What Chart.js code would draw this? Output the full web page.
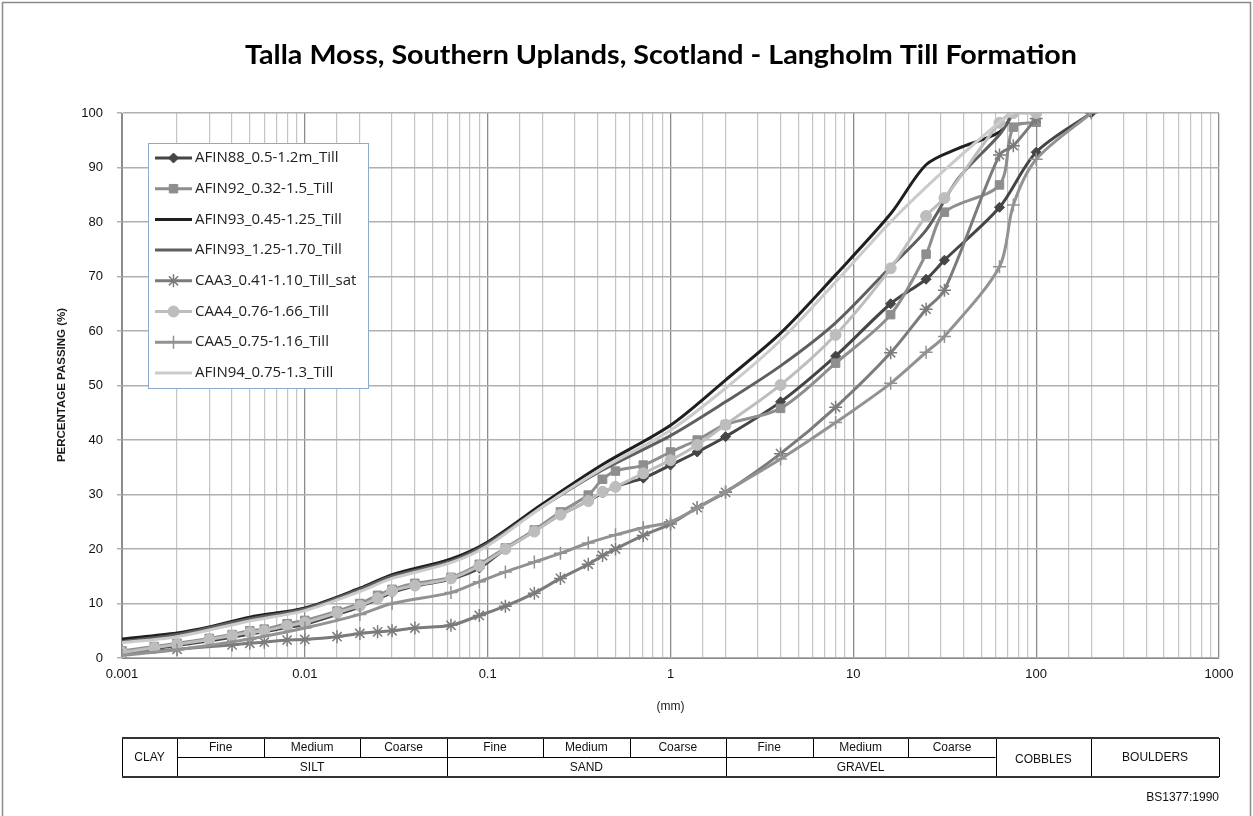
<!DOCTYPE html>
<html>
<head>
<meta charset="utf-8">
<script src="https://cdn.jsdelivr.net/npm/chart.js@4.4.1/dist/chart.umd.min.js"></script>
<style>
  html, body { margin: 0; padding: 0; background: #fff; }
  canvas { display: block; }
</style>
</head>
<body>
<canvas id="psd" width="1253" height="816"></canvas>
<script>
'use strict';

// ************* DATA (particle size in mm / percentage passing) *************

const titleText = 'Talla Moss, Southern Uplands, Scotland - Langholm Till Formation';

const seriesNames = [
  'AFIN88_0.5-1.2m_Till',
  'AFIN92_0.32-1.5_Till',
  'AFIN93_0.45-1.25_Till',
  'AFIN93_1.25-1.70_Till',
  'CAA3_0.41-1.10_Till_sat',
  'CAA4_0.76-1.66_Till',
  'CAA5_0.75-1.16_Till',
  'AFIN94_0.75-1.3_Till'
];

const afin88Size = [0.001, 0.0015, 0.002, 0.003, 0.004, 0.005, 0.006, 0.008, 0.01, 0.015, 0.02, 0.025, 0.03, 0.04, 0.063, 0.09, 0.125, 0.18, 0.25, 0.355, 0.425, 0.5, 0.71, 1, 1.4, 2, 4, 8, 16, 25, 31.5, 63, 100, 200];
const afin88Pass = [0.9, 1.7, 2.3, 3.1, 3.8, 4.4, 4.8, 5.6, 6.2, 8.0, 9.4, 10.8, 12.0, 13.2, 14.5, 16.5, 20.0, 23.3, 26.3, 28.8, 30.3, 31.5, 33.0, 35.4, 37.8, 40.6, 47.0, 55.4, 65.0, 69.5, 73.0, 82.7, 92.8, 100];

const afin92Size = [0.001, 0.0015, 0.002, 0.003, 0.004, 0.005, 0.006, 0.008, 0.01, 0.015, 0.02, 0.025, 0.03, 0.04, 0.063, 0.09, 0.125, 0.18, 0.25, 0.355, 0.425, 0.5, 0.71, 1, 1.4, 2, 4, 8, 16, 25, 31.5, 63, 75, 100];
const afin92Pass = [1.3, 2.1, 2.7, 3.6, 4.3, 5.0, 5.3, 6.3, 6.9, 8.6, 10.0, 11.5, 12.6, 13.7, 14.8, 17.2, 20.2, 23.5, 26.8, 29.9, 32.8, 34.3, 35.4, 37.8, 40.0, 42.8, 45.8, 54.1, 63.0, 74.1, 81.8, 86.8, 97.4, 98.3];

const afin93aSize = [0.001, 0.002, 0.003, 0.005, 0.01, 0.02, 0.03, 0.063, 0.1, 0.2, 0.425, 1, 2, 4, 8, 16, 25, 37.5, 63, 75];
const afin93aPass = [3.5, 4.6, 5.7, 7.5, 9.2, 12.8, 15.3, 18.2, 21.3, 28.3, 35.5, 42.7, 51.0, 59.6, 70.3, 81.5, 90.5, 93.5, 96.5, 100];

const afin93bSize = [0.001, 0.002, 0.005, 0.01, 0.02, 0.03, 0.063, 0.1, 0.2, 0.425, 1, 2, 4, 8, 16, 25, 37.5, 63, 75];
const afin93bPass = [3.0, 4.3, 7.2, 9.0, 12.6, 15.0, 17.8, 21.0, 27.8, 34.5, 40.8, 47.0, 53.6, 61.5, 71.8, 78.5, 88.0, 96.0, 100];

const caa3Size = [0.001, 0.002, 0.004, 0.005, 0.006, 0.008, 0.01, 0.015, 0.02, 0.025, 0.03, 0.04, 0.063, 0.09, 0.125, 0.18, 0.25, 0.355, 0.425, 0.5, 0.71, 1, 1.4, 2, 4, 8, 16, 25, 31.5, 63, 75, 100];
const caa3Pass = [0.8, 1.6, 2.4, 2.7, 2.9, 3.3, 3.4, 3.9, 4.5, 4.8, 5.0, 5.5, 6.0, 7.8, 9.5, 11.9, 14.6, 17.2, 18.8, 20.0, 22.5, 24.6, 27.6, 30.4, 37.5, 46.0, 56.0, 64.0, 67.5, 92.3, 94.0, 99.0];

const caa4Size = [0.001, 0.0015, 0.002, 0.003, 0.004, 0.005, 0.006, 0.008, 0.01, 0.015, 0.02, 0.025, 0.03, 0.04, 0.063, 0.09, 0.125, 0.18, 0.25, 0.355, 0.425, 0.5, 0.71, 1, 1.4, 2, 4, 8, 16, 25, 31.5, 63, 75, 100];
const caa4Pass = [1.0, 1.9, 2.5, 3.4, 4.1, 4.7, 5.0, 5.9, 6.5, 8.3, 9.6, 11.0, 12.3, 13.3, 14.6, 16.9, 20.0, 23.2, 26.3, 28.8, 30.5, 31.4, 33.9, 36.3, 39.1, 42.8, 50.1, 59.3, 71.5, 81.1, 84.4, 98.2, 100, 100];

const caa5Size = [0.001, 0.002, 0.005, 0.01, 0.02, 0.03, 0.063, 0.09, 0.125, 0.18, 0.25, 0.355, 0.5, 0.71, 1, 1.4, 2, 4, 8, 16, 25, 31.5, 63, 75, 100, 200];
const caa5Pass = [0.5, 1.5, 3.5, 5.5, 8.0, 10.0, 12.0, 14.0, 15.8, 17.6, 19.2, 21.1, 22.6, 23.9, 25.0, 27.5, 30.5, 36.5, 43.2, 50.4, 56.1, 59.0, 71.8, 83.1, 91.5, 100];

const afin94Size = [0.001, 0.002, 0.005, 0.01, 0.02, 0.03, 0.063, 0.1, 0.2, 0.425, 1, 2, 4, 8, 16, 31.5, 63, 75];
const afin94Pass = [2.8, 3.9, 6.8, 8.7, 12.2, 14.6, 17.5, 20.6, 27.8, 34.8, 41.8, 49.5, 58.3, 69.0, 80.0, 89.5, 98.3, 100];

// y axis tick labels (percentage)
const yTicks = [0, 10, 20, 30, 40, 50, 60, 70, 80, 90, 100];

// BS1377:1990 classification bands (boundaries in mm)
const fractionBounds = [0.001, 0.002, 0.06, 2, 60, 200, 1000];
const fractionNames = ['CLAY', 'SILT', 'SAND', 'GRAVEL', 'COBBLES', 'BOULDERS'];
const subBounds = [0.006, 0.02, 0.2, 0.6, 6, 20];
const subNames = ['Fine', 'Medium', 'Coarse'];

// +++++ STYLES ++++++
const lineColors = ['#454545', '#8e8e8e', '#1f1f1f', '#5f5f5f', '#7b7b7b', '#bdbdbd', '#929292', '#cbcbcb'];
const markerStyles = ['rectRot', 'rect', false, false, 'star', 'circle', 'cross', false];
const markerRadius = [5, 6, 0, 0, 6.5, 5.5, 6.5, 0];

function toPoints(sizes, pass) {
  let pts = [];
  for (let i = 0; i < sizes.length; i++) {
    pts.push({ x: sizes[i], y: pass[i] });
  }
  return pts;
}

const allSeries = [
  toPoints(afin88Size, afin88Pass),
  toPoints(afin92Size, afin92Pass),
  toPoints(afin93aSize, afin93aPass),
  toPoints(afin93bSize, afin93bPass),
  toPoints(caa3Size, caa3Pass),
  toPoints(caa4Size, caa4Pass),
  toPoints(caa5Size, caa5Pass),
  toPoints(afin94Size, afin94Pass)
];

const datasets = [];
for (let i = 0; i < seriesNames.length; i++) {
  datasets.push({
    label: seriesNames[i],
    data: allSeries[i],
    borderColor: lineColors[i],
    backgroundColor: lineColors[i],
    borderWidth: 3,
    tension: 0.3,
    pointStyle: markerStyles[i] || 'circle',
    pointRadius: markerRadius[i],
    pointBorderWidth: (markerStyles[i] === 'star' || markerStyles[i] === 'cross') ? 1.5 : 1,
    pointBorderColor: lineColors[i],
    pointBackgroundColor: lineColors[i],
    // later series drawn on top, like the spreadsheet
    order: seriesNames.length - i
  });
}

function isPow10(v) {
  let l = Math.log10(v);
  return Math.abs(l - Math.round(l)) < 1e-6;
}

// ******* DECORATIONS: frame, titles, legend, classification table *******
const decorations = {
  id: 'decorations',
  beforeDraw(chart) {
    const c = chart.ctx;
    c.save();
    c.fillStyle = '#ffffff';
    c.fillRect(0, 0, chart.width, chart.height);
    c.strokeStyle = '#8a8a8a';
    c.lineWidth = 1.5;
    c.strokeRect(2.5, 2.5, chart.width - 5, chart.height + 40);
    c.restore();
  },
  afterDraw(chart) {
    const c = chart.ctx;
    const xs = chart.scales.x;
    const area = chart.chartArea;
    c.save();

    // title, squeezed to the narrow spreadsheet face
    c.font = 'bold 27px Lato, "Open Sans", sans-serif';
    c.fillStyle = '#000';
    c.textBaseline = 'middle';
    c.textAlign = 'center';
    let w = c.measureText(titleText).width;
    let sx = 832 / w;
    c.save();
    c.translate(661, 55);
    c.scale(sx, 1);
    c.fillText(titleText, 0, 0);
    c.restore();

    // y axis title
    c.save();
    c.translate(62, 385);
    c.rotate(-Math.PI / 2);
    c.font = 'bold 11.5px "Liberation Sans", Arial, sans-serif';
    c.fillStyle = '#1a1a1a';
    c.fillText('PERCENTAGE PASSING (%)', 0, 0);
    c.restore();

    // x axis title
    c.font = '12px "Liberation Sans", Arial, sans-serif';
    c.fillStyle = '#1a1a1a';
    c.fillText('(mm)', (area.left + area.right) / 2, 707);

    // legend
    c.fillStyle = '#ffffff';
    c.fillRect(148, 143, 221, 245);
    c.strokeStyle = '#8fa9cf';
    c.lineWidth = 1;
    c.strokeRect(148.5, 143.5, 220, 245);
    for (let i = 0; i < seriesNames.length; i++) {
      let ly = 158 + i * 30.7;
      c.strokeStyle = lineColors[i];
      c.lineWidth = 3;
      c.beginPath();
      c.moveTo(155, ly);
      c.lineTo(192, ly);
      c.stroke();
      if (markerStyles[i]) {
        c.fillStyle = lineColors[i];
        c.strokeStyle = lineColors[i];
        c.lineWidth = datasets[i].pointBorderWidth;
        Chart.helpers.drawPoint(c, {
          pointStyle: markerStyles[i],
          radius: markerRadius[i],
          borderWidth: datasets[i].pointBorderWidth,
          rotation: 0
        }, 173.5, ly);
      }
      c.font = '15px "Open Sans", sans-serif';
      c.fillStyle = '#222';
      c.textAlign = 'left';
      c.fillText(seriesNames[i], 195, ly);
    }

    // classification table
    const top = 738, mid = 757, bot = 777;
    const px = v => xs.getPixelForValue(v);
    c.strokeStyle = '#000';
    c.lineWidth = 1;
    c.beginPath();
    for (let i = 0; i < fractionBounds.length; i++) {
      let x = Math.round(px(fractionBounds[i])) + 0.5;
      c.moveTo(x, top);
      c.lineTo(x, bot);
    }
    for (let i = 0; i < subBounds.length; i++) {
      let x = Math.round(px(subBounds[i])) + 0.5;
      c.moveTo(x, top);
      c.lineTo(x, mid);
    }
    c.moveTo(px(0.002), mid + 0.5);
    c.lineTo(px(60), mid + 0.5);
    c.stroke();
    c.strokeStyle = '#333';
    c.lineWidth = 2;
    c.beginPath();
    c.moveTo(px(0.001), top);
    c.lineTo(px(1000), top);
    c.moveTo(px(0.001), bot);
    c.lineTo(px(1000), bot);
    c.stroke();

    c.font = '12px "Liberation Sans", Arial, sans-serif';
    c.fillStyle = '#111';
    c.textAlign = 'center';
    const cx = (a, b) => (px(a) + px(b)) / 2;
    c.fillText(fractionNames[0], cx(0.001, 0.002), (top + bot) / 2);
    c.fillText(fractionNames[4], cx(60, 200), (top + bot) / 2 + 2);
    c.fillText(fractionNames[5], cx(200, 1000), (top + bot) / 2);
    for (let g = 0; g < 3; g++) {
      let lo = fractionBounds[g + 1];
      let hi = fractionBounds[g + 2];
      c.fillText(fractionNames[g + 1], cx(lo, hi), (mid + bot) / 2 + 1);
      let edges = [lo, subBounds[g * 2], subBounds[g * 2 + 1], hi];
      for (let s = 0; s < 3; s++) {
        c.fillText(subNames[s], cx(edges[s], edges[s + 1]), (top + mid) / 2);
      }
    }
    c.textAlign = 'right';
    c.fillText('BS1377:1990', px(1000), 798);

    c.restore();
  }
};

// ***** THE CHART *****
const ctx = document.getElementById('psd').getContext('2d');

new Chart(ctx, {
  type: 'line',
  data: { datasets: datasets },
  options: {
    responsive: false,
    animation: false,
    devicePixelRatio: 1,
    layout: { padding: { top: 113, right: 34, bottom: 98, left: 0 } },
    plugins: {
      legend: { display: false },
      title: { display: false },
      tooltip: { enabled: false }
    },
    scales: {
      x: {
        type: 'logarithmic',
        min: 0.001,
        max: 1000,
        afterFit(scale) { scale.height = 60; },
        grid: {
          drawTicks: false,
          color: (g) => (g.tick && isPow10(g.tick.value)) ? '#8c8c8c' : '#c4c4c4',
          lineWidth: (g) => (g.tick && isPow10(g.tick.value)) ? 1.3 : 1.2
        },
        border: { color: '#8c8c8c' },
        ticks: {
          autoSkip: false,
          maxRotation: 0,
          padding: 9,
          color: '#111',
          font: { family: '"Liberation Sans", Arial, sans-serif', size: 13 },
          callback: (v) => isPow10(v) ? String(Number(Number(v).toPrecision(3))) : ''
        }
      },
      y: {
        min: 0,
        max: 100,
        afterFit(scale) { scale.width = 122; },
        afterBuildTicks(scale) { scale.ticks = yTicks.map(v => ({ value: v })); },
        grid: { color: '#b0b0b0', lineWidth: 1.5, tickLength: 5 },
        border: { color: '#8c8c8c' },
        ticks: {
          padding: 14,
          color: '#111',
          font: { family: '"Liberation Sans", Arial, sans-serif', size: 13 }
        }
      }
    }
  },
  plugins: [decorations]
});
</script>
</body>
</html>
